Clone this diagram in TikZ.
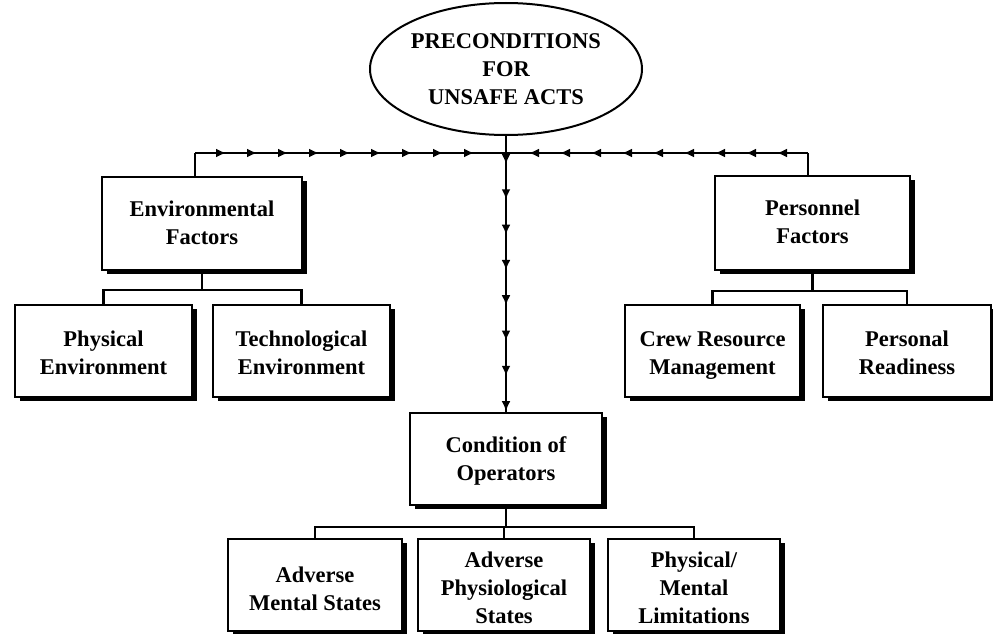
\documentclass[tikz,border=0pt]{standalone}
\usepackage{fontspec}
\setmainfont{Liberation Serif}
\usetikzlibrary{shapes.geometric,shadows,decorations.markings,arrows.meta}
\begin{document}
\begin{tikzpicture}[x=1pt,y=-1pt,
  lbl/.style={font=\bfseries\fontsize{22.5}{28}\selectfont, align=center},
  box/.style={draw=black, line width=1.8pt, fill=white, rectangle, inner sep=0pt,
    drop shadow={shadow xshift=5pt, shadow yshift=-4pt, fill=black, opacity=1}},
  txt/.style 2 args={label={[lbl, inner sep=0pt, yshift=-#1]center:{\strut #2\strut}}},
  conn/.style={line width=2.6pt, black},
  arrowsalong/.style={postaction={decorate}, decoration={markings,
    mark=between positions #1 with {\arrow{Latex[length=10pt,width=9pt]}}}},
]
\useasboundingbox (0,0) rectangle (993,634);
\fill[white] (0,0) rectangle (993,634);

% root
\node[lbl, ellipse, draw=black, line width=2pt, fill=white, inner sep=0pt,
      minimum width=272pt, minimum height=132pt] (root) at (506,69)
      {PRECONDITIONS\\FOR\\UNSAFE ACTS};

% level 1
\node[box, minimum width=200pt, minimum height=93pt, txt={1pt}{Environmental\\Factors}] (env) at (202,223.5) {};
\node[box, minimum width=195pt, minimum height=94pt, txt={1pt}{Personnel\\Factors}] (pers) at (812.5,223) {};
\node[box, minimum width=192pt, minimum height=92pt, txt={2pt}{Condition of\\Operators}] (cond) at (506,459) {};

% level 2
\node[box, minimum width=177pt, minimum height=92pt, txt={3.5pt}{Physical\\Environment}] (phys) at (103.5,351) {};
\node[box, minimum width=177pt, minimum height=92pt, txt={3.5pt}{Technological\\Environment}] (tech) at (301.5,351) {};
\node[box, minimum width=175pt, minimum height=92pt, txt={3.5pt}{Crew Resource\\Management}] (crew) at (712.5,351) {};
\node[box, minimum width=168pt, minimum height=92pt, txt={3.5pt}{Personal\\Readiness}] (pr) at (907,351) {};
\node[box, minimum width=174pt, minimum height=92pt, txt={5.5pt}{Adverse\\Mental States}] (ams) at (315,585) {};
\node[box, minimum width=172pt, minimum height=92pt, txt={5pt}{Adverse\\Physiological\\States}] (aps) at (504,585) {};
\node[box, minimum width=172pt, minimum height=92pt, txt={5pt}{Physical/\\Mental\\Limitations}] (pml) at (694,585) {};

% bus
\coordinate (jn) at (506,153);
\coordinate (lc) at (195,153);
\coordinate (rc) at (808,153);
\draw[conn] (lc |- env.north) -- (lc);
\draw[conn, arrowsalong={31pt and 280pt step 31pt}] (lc) -- (jn);
\draw[conn] (rc |- pers.north) -- (rc);
\draw[conn, arrowsalong={31pt and 280pt step 31pt}] (rc) -- (jn);
\draw[conn, arrowsalong={28pt and 278pt step 35.3pt}] (root.south) -- (cond.north);

% env children
\coordinate (eb) at (200,290);
\draw[conn] (env.south) -- (env.south |- eb);
\draw[conn] (phys.north) |- (tech.north |- eb) -- (tech.north);

% personnel children
\coordinate (pb) at (813,291);
\draw[conn] (pers.south) -- (pers.south |- pb);
\draw[conn] (crew.north) |- (pr.north |- pb) -- (pr.north);

% condition children
\coordinate (cb) at (504,527);
\draw[conn] (cond.south) -- (cond.south |- cb);
\draw[conn] (ams.north) |- (pml.north |- cb) -- (pml.north);
\draw[conn] (aps.north) -- (aps.north |- cb);
\end{tikzpicture}
\end{document}
